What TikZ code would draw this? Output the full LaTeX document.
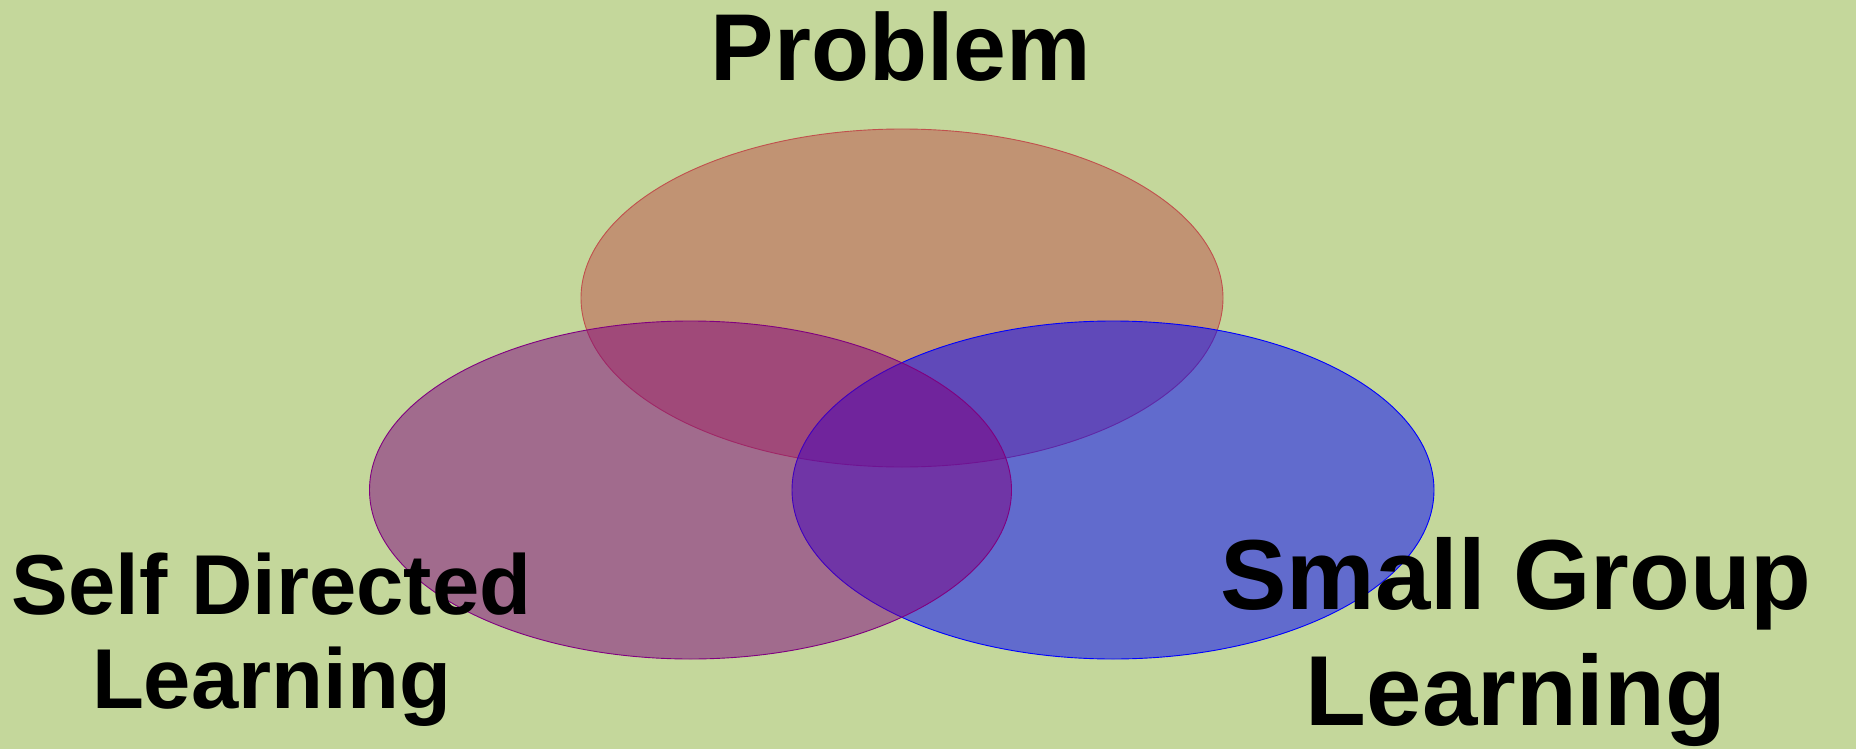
\documentclass[tikz,border=0pt]{standalone}
\usepackage{fontspec}
\setmainfont{Liberation Sans}
\usetikzlibrary{shapes.geometric}
\definecolor{bgreen}{RGB}{196,215,155}
\definecolor{pred}{RGB}{192,80,77}
\definecolor{pblue}{RGB}{0,0,255}
\definecolor{ppurple}{RGB}{128,0,128}
\tikzset{
  setbox/.style={ellipse, inner sep=0pt, minimum width=642pt, minimum height=338pt,
    fill opacity=0.5, draw opacity=1, line width=0.9pt},
  label/.style={align=center, inner sep=0pt, text=black, anchor=base}
}
\begin{document}
\begin{tikzpicture}[x=1pt,y=-1pt]
  % canvas
  \fill[bgreen] (0,0) rectangle (1856,749);
  \useasboundingbox (0,0) rectangle (1856,749);

  % the three overlapping sets
  \node[setbox, fill=pred, draw=pred] (prob) at (902,298) {};
  \node[setbox, fill=pblue, draw=pblue] (sgl) at (1113,490) {};
  \node[setbox, fill=ppurple, draw=ppurple] (sdl) at (690.5,490) {};

  % captions (base anchor sits on the last line)
  \node[label, font=\fontsize{95}{108}\bfseries\selectfont] (probtxt) at (901,80.5) {Problem};
  \node[label, font=\fontsize{85}{94}\bfseries\selectfont] (sdltxt) at (271.5,708) {Self Directed\\Learning};
  \node[label, font=\fontsize{99.5}{116}\bfseries\selectfont] (sgltxt) at (1516,725.6) {Small Group\\Learning};
\end{tikzpicture}
\end{document}
